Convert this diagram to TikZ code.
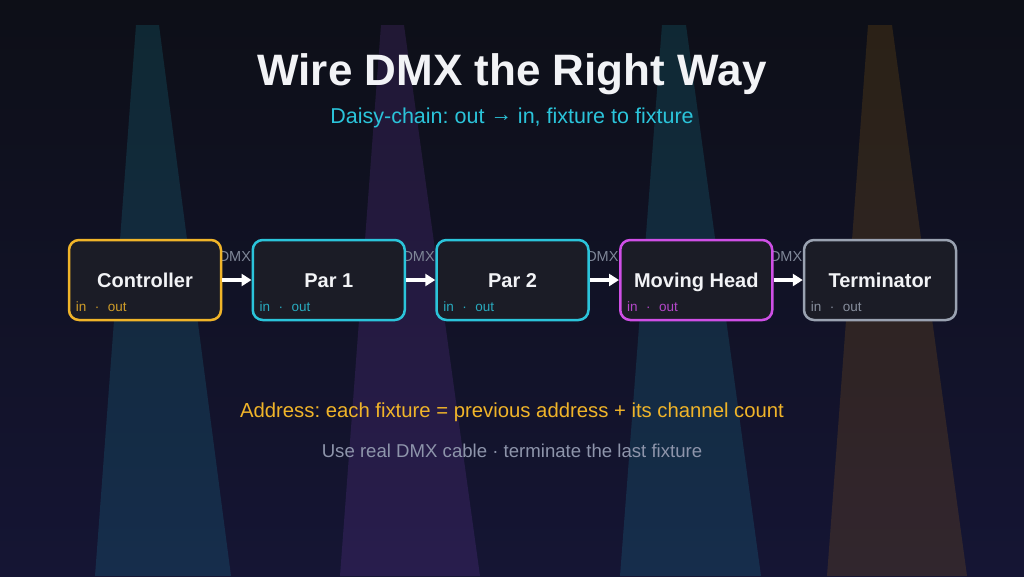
\documentclass[tikz,border=0pt]{standalone}
\usepackage{fontspec}
\setmainfont{Liberation Sans}
\usetikzlibrary{arrows.meta,calc}
\definecolor{bgtop}{HTML}{0D0F17}
\definecolor{bgbot}{HTML}{151534}
\definecolor{boxfill}{HTML}{1B1C26}
\definecolor{amber}{HTML}{F0B429}
\definecolor{cyanc}{HTML}{2BC4DA}
\definecolor{magc}{HTML}{CF4FE6}
\definecolor{grayc}{HTML}{9AA2B1}
\definecolor{dmxgray}{HTML}{7F8798}
\definecolor{subgray}{HTML}{8E95AB}
\definecolor{titlec}{HTML}{F2F3F6}
\definecolor{beamteal}{HTML}{22D3EE}
\definecolor{beampurple}{HTML}{A855F7}
\definecolor{beamamber}{HTML}{F59E0B}
\pgfdeclarelayer{bg}
\pgfdeclarelayer{lbl}
\pgfsetlayers{bg,lbl,main}
\tikzset{
  fixture/.style={draw=#1, line width=2.5pt, rounded corners=10pt, fill=boxfill,
    minimum width=152pt, minimum height=80pt, inner sep=0pt},
  fixname/.style={text=titlec, font=\bfseries\fontsize{20}{22}\selectfont, text height=14.5pt, text depth=4pt, inner sep=0pt},
  ports/.style={text=#1, opacity=0.85, font=\fontsize{13.5}{15}\selectfont, anchor=base west, inner sep=0pt},
  dmxlbl/.style={text=dmxgray, font=\fontsize{14.5}{16}\selectfont, inner sep=0pt},
  link/.style={draw=white, line width=3.2pt, -{Triangle[length=10pt,width=12pt]}},
  beam/.style={fill=#1, fill opacity=0.13}
}
\newcommand{\portsline}{in\hspace{8.5pt}·\hspace{8.5pt}out}
\frenchspacing
\begin{document}
\begin{tikzpicture}[x=1pt,y=-1pt]
\useasboundingbox (0,0) rectangle (1024,576);
\begin{pgfonlayer}{bg}
\shade[top color=bgtop, bottom color=bgbot] (0,0) rectangle (1024,576);
\fill[beam=beamteal]   (136,25) -- (159,25) -- (231,576) -- (95,576) -- cycle;
\fill[beam=beampurple] (381,25) -- (404,25) -- (480,576) -- (340,576) -- cycle;
\fill[beam=beamteal]   (662,25) -- (686,25) -- (761,576) -- (620,576) -- cycle;
\fill[beam=beamamber]  (868,25) -- (892,25) -- (967,576) -- (827,576) -- cycle;
\end{pgfonlayer}

\node[text=titlec, font=\bfseries\fontsize{44}{48}\selectfont] (title) at (512,74) {Wire DMX the Right Way};
\node[text=cyanc, font=\fontsize{21.5}{24}\selectfont] (sub) at (512,118) {Daisy-chain: out \raisebox{2pt}{→} in, fixture to fixture};

\node[fixture=amber] (c) at (145,280) {};
\node[fixture=cyanc] (p1) at (328.75,280) {};
\node[fixture=cyanc] (p2) at (512.5,280) {};
\node[fixture=magc] (mh) at (696.25,280) {};
\node[fixture=grayc] (t) at (880,280) {};

\foreach \n/\txt/\col in {c/Controller/amber, p1/Par 1/cyanc, p2/Par 2/cyanc, mh/Moving Head/magc, t/Terminator/grayc}{
  \node[fixname] (\n-name) at ($(\n.center)+(0,2)$) {\txt};
  \node[ports=\col] (\n-ports) at ($(\n.south west)+(8,-10)$) {\portsline};
}

\begin{pgfonlayer}{lbl}
\foreach \a/\b in {c/p1, p1/p2, p2/mh, mh/t}{
  \node[dmxlbl] (\a-dmx) at ($(\a.east)!0.5!(\b.west)+(-2,-23)$) {DMX};
}
\end{pgfonlayer}

\foreach \a/\b in {c/p1, p1/p2, p2/mh, mh/t}{
  \draw[link] (\a.east) -- (\b.west);
}

\node[text=amber, font=\fontsize{20.3}{24}\selectfont] (addr) at (512,412) {Address: each fixture = previous address + its channel count};
\node[text=subgray, font=\fontsize{18.6}{22}\selectfont] (tip) at (512,451) {Use real DMX cable · terminate the last fixture};
\end{tikzpicture}
\end{document}
